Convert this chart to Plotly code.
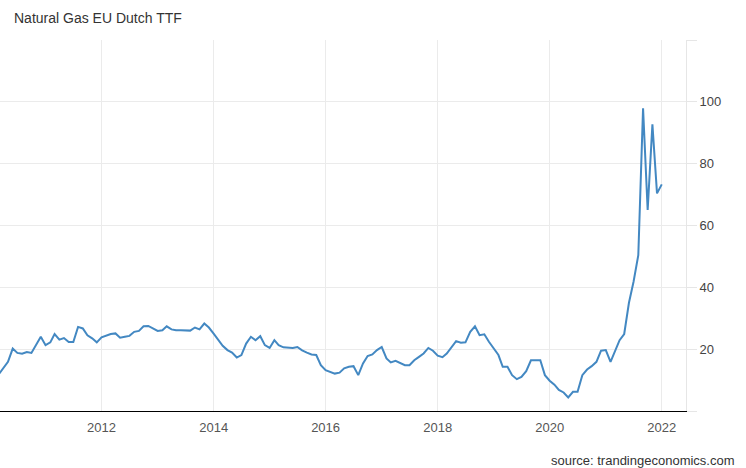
import pandas as pd
import plotly.graph_objects as go

# Monthly values (EUR/MWh), Mar 2010 .. Jan 2022
start_month = "2010-03-01"
values_2010 = [11.8, 13.8, 15.9, 20.2, 18.8, 18.5, 19.1, 18.8, 21.5, 24.0]
values_2011 = [21.3, 22.2, 24.9, 23.1, 23.6, 22.3, 22.3, 27.2, 26.7, 24.5, 23.5, 22.2]
values_2012 = [23.8, 24.3, 24.9, 25.1, 23.7, 24.0, 24.3, 25.6, 25.9, 27.4, 27.5, 26.7]
values_2013 = [25.9, 26.1, 27.4, 26.4, 26.1, 26.1, 26.1, 26.0, 27.0, 26.4, 28.3, 27.0]
values_2014 = [25.0, 22.8, 21.1, 19.7, 18.9, 17.3, 18.1, 21.8, 24.0, 22.9, 24.2, 21.3]
values_2015 = [20.4, 22.9, 21.3, 20.6, 20.4, 20.4, 20.7, 19.6, 18.9, 18.3, 18.1, 14.8]
values_2016 = [13.2, 12.5, 12.1, 12.4, 13.8, 14.3, 14.5, 11.6, 15.4, 17.8, 18.3, 19.7]
values_2017 = [20.7, 17.0, 15.7, 16.2, 15.4, 14.8, 14.8, 16.4, 17.5, 18.6, 20.4, 19.5]
values_2018 = [17.9, 17.4, 18.6, 20.5, 22.6, 22.1, 22.2, 25.6, 27.4, 24.5, 24.8, 22.4]
values_2019 = [20.2, 18.1, 14.3, 14.3, 11.6, 10.3, 11.0, 12.9, 16.4, 16.3, 16.4, 11.6]
values_2020 = [9.8, 8.5, 6.8, 6.0, 4.4, 6.2, 6.2, 11.6, 13.4, 14.5, 15.9, 19.5]
values_2021 = [19.7, 15.9, 19.1, 22.9, 24.9, 35.0, 41.8, 50.4, 97.9, 65.0, 92.7, 70.4]
values_2022 = [73.3]

values = (values_2010 + values_2011 + values_2012 + values_2013 + values_2014 + values_2015
          + values_2016 + values_2017 + values_2018 + values_2019 + values_2020
          + values_2021 + values_2022)
dates = pd.date_range(start_month, periods=len(values), freq="MS")

x_tick_vals = ["2012-01-01", "2014-01-01", "2016-01-01", "2018-01-01", "2020-01-01", "2022-01-01"]
x_tick_text = ["2012", "2014", "2016", "2018", "2020", "2022"]
y_tick_vals = [0, 20, 40, 60, 80, 100, 120]
y_tick_text = ["", "20", "40", "60", "80", "100", ""]

title_text = "Natural Gas EU Dutch TTF"
source_text = "source: trandingeconomics.com"

FONT = "Arial, Liberation Sans, sans-serif"

fig = go.Figure()
fig.add_trace(go.Scatter(
    x=dates, y=values, mode="lines",
    line=dict(color="#4388c2", width=2),
    hoverinfo="x+y", showlegend=False,
))

fig.update_layout(
    width=746, height=468,
    margin=dict(l=0, r=60, t=40, b=57),
    paper_bgcolor="white", plot_bgcolor="white",
    font=dict(family=FONT, size=13, color="#555555"),
    title=dict(text=title_text, x=14 / 746, xanchor="left", xref="container",
               y=1 - 18 / 468, yanchor="middle", yref="container",
               font=dict(family=FONT, size=14, color="#333333")),
    xaxis=dict(
        type="date",
        range=["2010-03-10", "2022-06-08"],
        tickvals=x_tick_vals, ticktext=x_tick_text,
        showgrid=True, gridcolor="#ebebeb", gridwidth=1,
        showline=True, linecolor="#000000", linewidth=1,
        ticks="outside", ticklen=4, tickcolor="rgba(0,0,0,0)", zeroline=False,
        tickfont=dict(size=13, color="#555555"),
    ),
    yaxis=dict(
        side="right",
        range=[0, 120],
        tickvals=y_tick_vals, ticktext=y_tick_text,
        showgrid=True, gridcolor="#ebebeb", gridwidth=1,
        showline=True, linecolor="#e6e6e6", linewidth=1,
        ticks="outside", ticklen=10, tickcolor="#e6e6e6",
        zeroline=False,
        tickfont=dict(size=13, color="#444444"),
    ),
    annotations=[dict(
        text=source_text, xref="paper", yref="paper", x=1, y=0,
        xanchor="right", yanchor="middle", xshift=51, yshift=-49,
        showarrow=False, font=dict(family=FONT, size=13, color="#333333"),
    )],
)

fig.write_html("out.html", config={"displayModeBar": False},
               post_script="document.body.style.margin='0';")
